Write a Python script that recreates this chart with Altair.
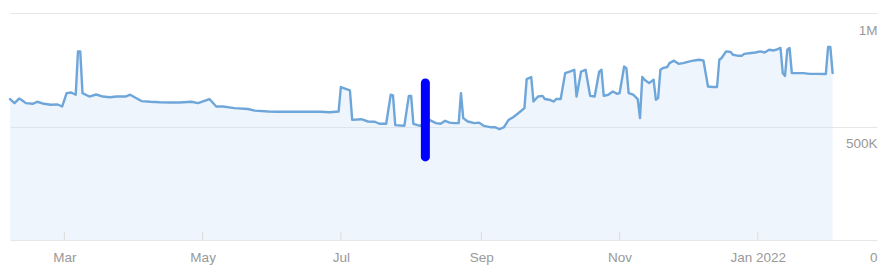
import altair as alt
import pandas as pd

# ---- data ----
dates = [
    "2021-02-05", "2021-02-07", "2021-02-09", "2021-02-10", "2021-02-12", "2021-02-15",
    "2021-02-17", "2021-02-20", "2021-02-23", "2021-02-26", "2021-02-28", "2021-03-02",
    "2021-03-04", "2021-03-06", "2021-03-07", "2021-03-08", "2021-03-09", "2021-03-12",
    "2021-03-15", "2021-03-18", "2021-03-21", "2021-03-24", "2021-03-28", "2021-03-30",
    "2021-04-01", "2021-04-04", "2021-04-08", "2021-04-12", "2021-04-17", "2021-04-21",
    "2021-04-26", "2021-04-29", "2021-05-04", "2021-05-07", "2021-05-10", "2021-05-15",
    "2021-05-21", "2021-05-24", "2021-05-30", "2021-06-03", "2021-06-07", "2021-06-12",
    "2021-06-17", "2021-06-22", "2021-06-26", "2021-06-30", "2021-07-01", "2021-07-05",
    "2021-07-06", "2021-07-10", "2021-07-13", "2021-07-16", "2021-07-18", "2021-07-21",
    "2021-07-23", "2021-07-24", "2021-07-25", "2021-07-29", "2021-07-31", "2021-08-01",
    "2021-08-02", "2021-08-05", "2021-08-09", "2021-08-12", "2021-08-14", "2021-08-16",
    "2021-08-18", "2021-08-20", "2021-08-22", "2021-08-23", "2021-08-24", "2021-08-26",
    "2021-08-29", "2021-08-31", "2021-09-02", "2021-09-05", "2021-09-07", "2021-09-09",
    "2021-09-11", "2021-09-13", "2021-09-15", "2021-09-17", "2021-09-20", "2021-09-21",
    "2021-09-23", "2021-09-24", "2021-09-26", "2021-09-28", "2021-09-29", "2021-10-01",
    "2021-10-03", "2021-10-04", "2021-10-06", "2021-10-08", "2021-10-10", "2021-10-12",
    "2021-10-13", "2021-10-15", "2021-10-17", "2021-10-19", "2021-10-21", "2021-10-23",
    "2021-10-24", "2021-10-25", "2021-10-27", "2021-10-29", "2021-10-31", "2021-11-01",
    "2021-11-03", "2021-11-04", "2021-11-05", "2021-11-07", "2021-11-09", "2021-11-10",
    "2021-11-11", "2021-11-12", "2021-11-14", "2021-11-16", "2021-11-17", "2021-11-18",
    "2021-11-19", "2021-11-20", "2021-11-22", "2021-11-23", "2021-11-25", "2021-11-27",
    "2021-11-29", "2021-12-02", "2021-12-04", "2021-12-06", "2021-12-08", "2021-12-10",
    "2021-12-12", "2021-12-14", "2021-12-15", "2021-12-16", "2021-12-18", "2021-12-20",
    "2021-12-21", "2021-12-23", "2021-12-25", "2021-12-26", "2021-12-29", "2021-12-31",
    "2022-01-02", "2022-01-04", "2022-01-06", "2022-01-08", "2022-01-09", "2022-01-11",
    "2022-01-12", "2022-01-13", "2022-01-14", "2022-01-15", "2022-01-16", "2022-01-18",
    "2022-01-21", "2022-01-24", "2022-01-27", "2022-01-31", "2022-02-01", "2022-02-02",
    "2022-02-03",
]
values = [
    621000, 603000, 623000, 618000, 603000, 600000,
    609000, 600000, 596000, 597000, 588000, 647000,
    650000, 640000, 831000, 831000, 647000, 632000,
    641000, 632000, 629000, 632000, 632000, 640000,
    629000, 612000, 609000, 607000, 606000, 606000,
    609000, 603000, 621000, 588000, 588000, 581000,
    577000, 570000, 566000, 565000, 565000, 565000,
    565000, 565000, 563000, 566000, 674000, 659000,
    529000, 532000, 522000, 521000, 512000, 512000,
    640000, 637000, 506000, 503000, 635000, 635000,
    512000, 503000, 529000, 515000, 512000, 525000,
    517000, 515000, 515000, 647000, 537000, 522000,
    515000, 517000, 503000, 497000, 497000, 488000,
    497000, 529000, 541000, 556000, 581000, 709000,
    718000, 610000, 632000, 635000, 621000, 618000,
    610000, 621000, 621000, 735000, 742000, 750000,
    632000, 742000, 750000, 635000, 632000, 742000,
    750000, 635000, 640000, 654000, 644000, 647000,
    764000, 757000, 647000, 640000, 621000, 537000,
    718000, 706000, 691000, 706000, 618000, 625000,
    750000, 757000, 762000, 779000, 790000, 776000,
    779000, 787000, 791000, 794000, 791000, 676000,
    674000, 674000, 794000, 802000, 831000, 828000,
    816000, 812000, 812000, 820000, 824000, 826000,
    831000, 826000, 838000, 835000, 838000, 846000,
    735000, 723000, 838000, 846000, 735000, 735000,
    735000, 732000, 732000, 731000, 850000, 850000,
    735000,
]

tick_dates = ["2021-03-01", "2021-05-01", "2021-07-01", "2021-09-01", "2021-11-01", "2022-01-01"]
y_ticks = [0, 500000, 1000000]

marker_date = ["2021-08-07T07:00:00"]
marker_top = [692000]
marker_bottom = [366000]

x_domain = ["2021-02-05T00:00:00", "2022-02-22T14:00:00"]

# ---- tables ----
df = pd.DataFrame({"date": [d + "T00:00:00" for d in dates], "value": values})
ticks_df = pd.DataFrame({"date": [d + "T00:00:00" for d in tick_dates]})
marker_df = pd.DataFrame({"date": marker_date, "top": marker_top, "bottom": marker_bottom})

FONT = "Liberation Sans"
LABEL_COLOR = "#999999"

x_scale = alt.Scale(domain=x_domain)
y_scale = alt.Scale(domain=[0, 1000000], nice=False, zero=True)

x_axis = alt.Axis(
    values=[alt.DateTime(year=2021, month=3, date=1), alt.DateTime(year=2021, month=5, date=1),
            alt.DateTime(year=2021, month=7, date=1), alt.DateTime(year=2021, month=9, date=1),
            alt.DateTime(year=2021, month=11, date=1), alt.DateTime(year=2022, month=1, date=1)],
    labelExpr="month(datum.value) == 0 ? timeFormat(datum.value, '%b %Y') : timeFormat(datum.value, '%b')",
    title=None, grid=False, domain=False, ticks=False, tickSize=0,
    labelPadding=10, labelFontSize=13.5, labelColor=LABEL_COLOR, labelFont=FONT,
)
y_axis = alt.Axis(
    orient="right", values=y_ticks, title=None,
    labelExpr="datum.value == 0 ? '0' : (datum.value >= 1000000 ? format(datum.value / 1000000, 'd') + 'M' : format(datum.value / 1000, 'd') + 'K')",
    grid=True, gridColor="#e6e6e6", gridWidth=1, domain=False, ticks=False, tickSize=0,
    labelAlign="right", labelBaseline="middle", labelOffset=17, labelPadding=0,
    labelFontSize=13.5, labelColor=LABEL_COLOR, labelFont=FONT,
)

base = alt.Chart(df)

area = base.mark_area(color="#cfe0f5", opacity=0.33).encode(
    x=alt.X("date:T", scale=x_scale, axis=x_axis),
    y=alt.Y("value:Q", scale=y_scale, axis=y_axis),
)
line = base.mark_line(color="#6fa6da", strokeWidth=2.4, strokeJoin="round", strokeCap="round").encode(
    x="date:T",
    y="value:Q",
)
tick_rules = alt.Chart(ticks_df).mark_rule(color="#dcdcdc", strokeWidth=1).encode(
    x="date:T",
    y=alt.value(219),
    y2=alt.value(227),
)
marker = alt.Chart(marker_df).mark_rule(color="#0000ff", strokeWidth=9, strokeCap="round").encode(
    x="date:T",
    y="top:Q",
    y2="bottom:Q",
)

chart = alt.layer(area, tick_rules, line, marker).properties(
    width=867,
    height=227,
    autosize=alt.AutoSizeParams(type="none"),
    padding={"left": 10, "top": 13, "right": 14, "bottom": 31},
    background="white",
).configure_view(stroke=None)

chart.save("out.html", embed_options={"renderer": "svg", "actions": False})
